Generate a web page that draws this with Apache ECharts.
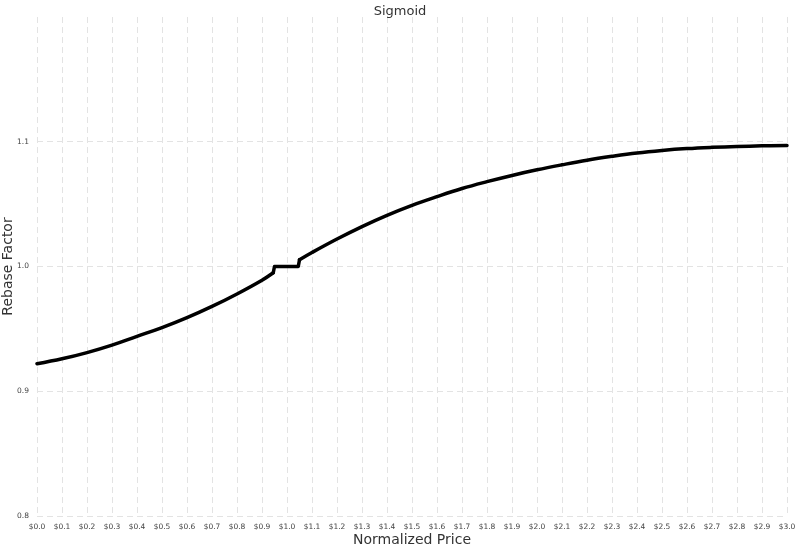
<!DOCTYPE html>
<html>
<head>
<meta charset="utf-8">
<script src="https://cdn.jsdelivr.net/npm/echarts@6/dist/echarts.min.js"></script>
<style>
html,body{margin:0;padding:0;background:#fff;}
#chart{width:800px;height:549px;}
</style>
</head>
<body>
<div id="chart"></div>
<script>
var chartTitle = 'Sigmoid';
var xAxisName = 'Normalized Price';
var yAxisName = 'Rebase Factor';
var prices = [0.0, 0.1, 0.2, 0.3, 0.4, 0.5, 0.6, 0.7, 0.8, 0.9, 0.945, 0.95, 1.0, 1.045, 1.05,
  1.1, 1.2, 1.3, 1.4, 1.5, 1.6, 1.7, 1.8, 1.9, 2.0, 2.1, 2.2, 2.3, 2.4, 2.5, 2.6, 2.7, 2.8, 2.9, 3.0];
var factors = [0.922, 0.926, 0.931, 0.937, 0.944, 0.951, 0.959, 0.968, 0.978, 0.989, 0.995, 1.0, 1.0, 1.0, 1.0054,
  1.0112, 1.022, 1.032, 1.041, 1.049, 1.056, 1.0625, 1.068, 1.073, 1.0775, 1.0815, 1.0852, 1.0883, 1.091, 1.093, 1.0945, 1.0955, 1.0962, 1.0967, 1.097];
// dead band around $1.0 where the factor steps to 1.0
var bandStart = 0.945;
var bandEnd = 1.05;

var allPts = prices.map(function (p, i) { return [p, factors[i]]; });
var leftPts = allPts.filter(function (d) { return d[0] <= bandStart; });
var bandPts = allPts.filter(function (d) { return d[0] >= bandStart && d[0] <= bandEnd; });
var rightPts = allPts.filter(function (d) { return d[0] >= bandEnd; });

var font = 'DejaVu Sans';
var lineStyle = { color: '#000', width: 3.5, cap: 'round', join: 'round' };
var chart = echarts.init(document.getElementById('chart'));
chart.setOption({
  animation: false,
  backgroundColor: '#ffffff',
  title: {
    text: chartTitle, left: 'center', top: 0,
    textStyle: { fontFamily: font, fontSize: 13, fontWeight: 'normal', color: '#333' }
  },
  grid: { left: 37, right: 13, top: 17, bottom: 33, containLabel: false, outerBoundsMode: 'none' },
  xAxis: {
    type: 'value', min: 0, max: 3, interval: 0.1,
    name: xAxisName, nameLocation: 'middle', nameGap: 17, nameMoveOverlap: false,
    nameTextStyle: { fontFamily: font, fontSize: 14, color: '#333' },
    axisLine: { show: false }, axisTick: { show: false },
    axisLabel: {
      fontFamily: font, fontSize: 7.5, color: '#444', margin: 7,
      formatter: function (v) { return '$' + v.toFixed(1); }
    },
    splitLine: { show: true, lineStyle: { color: '#e3e3e3', type: [6, 4], width: 1 } }
  },
  yAxis: {
    type: 'value', min: 0.8, max: 1.2, interval: 0.1,
    name: yAxisName, nameLocation: 'middle', nameGap: 22, nameRotate: 90, nameMoveOverlap: false,
    nameTextStyle: { fontFamily: font, fontSize: 14, color: '#333' },
    axisLine: { show: false }, axisTick: { show: false },
    axisLabel: {
      fontFamily: font, fontSize: 7.5, color: '#444', margin: 8, showMaxLabel: false,
      formatter: function (v) { return v.toFixed(1); }
    },
    splitLine: { show: true, showMaxLine: false, lineStyle: { color: '#e3e3e3', type: [6, 4], width: 1 } }
  },
  series: [
    { type: 'line', data: leftPts, showSymbol: false, smooth: 0.4, lineStyle: lineStyle },
    { type: 'line', data: bandPts, showSymbol: false, smooth: false, lineStyle: lineStyle },
    { type: 'line', data: rightPts, showSymbol: false, smooth: 0.4, lineStyle: lineStyle }
  ]
});
</script>
</body>
</html>
